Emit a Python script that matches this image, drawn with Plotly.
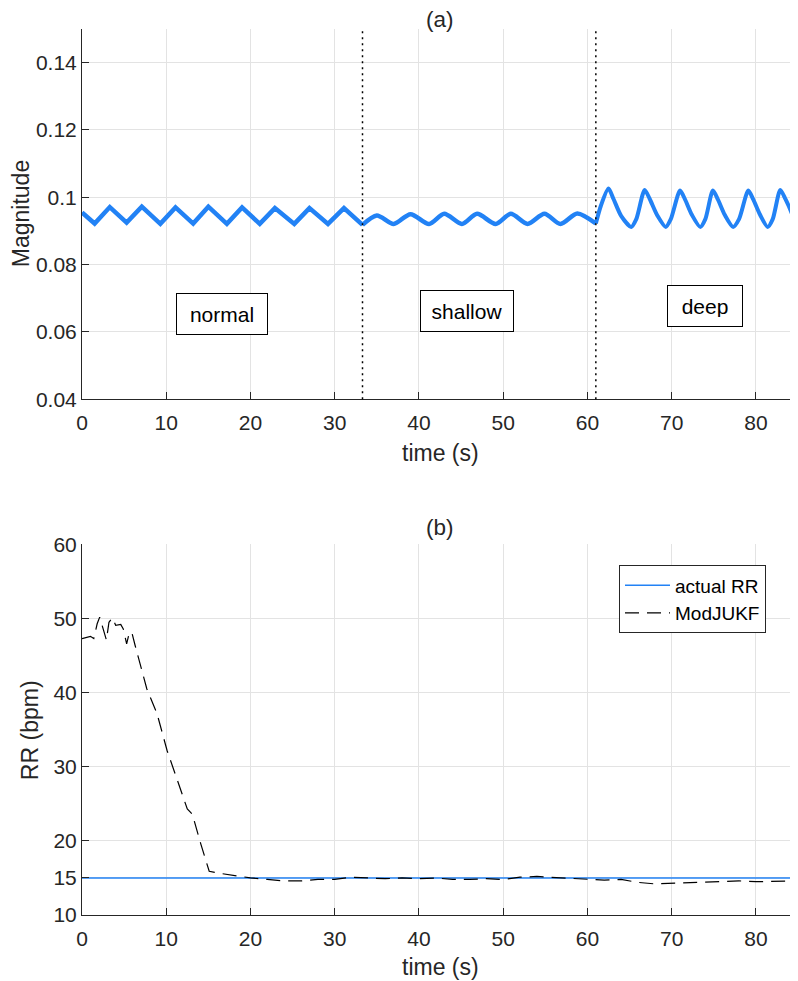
import plotly.graph_objects as go

# panel (a): magnitude trace (key points per breath)
t_normal = [0, 1.5, 3.3, 5.3, 7.1, 9.3, 11.1, 13.2, 15.0, 17.2, 19.0, 21.1,
            22.9, 25.2, 27.0, 29.2, 31.1, 33.3]
mag_normal = [0.0955, 0.0922, 0.0971, 0.0925, 0.0972, 0.0921, 0.0970, 0.0922,
              0.0972, 0.0921, 0.0970, 0.0921, 0.0968, 0.0921, 0.0968, 0.0921,
              0.0968, 0.0918]

t_shallow = [33.3, 35.0, 37.0, 39.0, 41.2, 43.0, 45.1, 46.9, 49.1, 50.9, 52.9,
             54.9, 56.8, 58.8, 61.0]
mag_shallow = [0.0918, 0.0946, 0.0921, 0.0950, 0.0921, 0.0951, 0.0921, 0.0951,
               0.0921, 0.0951, 0.0921, 0.0951, 0.0921, 0.0952, 0.0922]

t_deep = [61.0, 61.6, 62.5, 63.1, 64.0, 65.2, 65.8, 66.8, 67.4, 68.3, 69.3,
          69.9, 71.0, 71.6, 72.4, 73.4, 74.0, 74.9, 75.5, 76.3, 77.3, 78.0,
          79.1, 79.7, 80.5, 81.4, 82.0, 82.9, 83.5, 84.3, 85.0]
mag_deep = [0.0922, 0.0975, 0.1026, 0.0995, 0.0945, 0.0912, 0.0935, 0.1022,
            0.0995, 0.0946, 0.0912, 0.0935, 0.1020, 0.0993, 0.0948, 0.0912,
            0.0935, 0.1020, 0.0993, 0.0948, 0.0912, 0.0935, 0.1020, 0.0993,
            0.0948, 0.0912, 0.0935, 0.1022, 0.0995, 0.0950, 0.0896]

phase_bounds = [33.3, 61.0]
phase_labels = ["normal", "shallow", "deep"]
phase_label_t = [16.6, 45.7, 74.0]
phase_label_y = [0.0653, 0.0662, 0.0677]

# panel (b): respiratory rate estimate
t_rr = [0, 1.0, 1.4, 1.8, 2.1, 2.4, 2.9, 3.2, 3.6, 4.0, 4.6, 4.9, 5.3, 5.6,
        5.9, 6.3, 7.7, 8.9, 10.1, 12.5, 13.1, 14.1, 15.1, 16.5, 18.1, 20,
        22, 24, 26, 28, 30, 32, 34, 36, 38, 40, 42, 44, 46, 48, 50, 52, 54,
        56, 58, 60, 62, 64, 66, 68, 70, 72, 74, 76, 78, 80, 82, 85]
rr_est = [47.3, 47.6, 47.3, 49.3, 50.2, 48.9, 47.1, 49.5, 50.1, 49.1, 49.2,
          48.6, 46.6, 48.0, 48.2, 46.4, 40.5, 37.2, 32.2, 24.3, 23.6, 19.6,
          15.9, 15.6, 15.3, 15.0, 14.8, 14.6, 14.6, 14.8, 14.8, 15.1, 15.0,
          14.9, 15.0, 14.9, 15.0, 14.8, 14.8, 14.9, 14.8, 15.1, 15.2, 15.1,
          15.0, 14.9, 14.7, 14.8, 14.4, 14.2, 14.3, 14.4, 14.4, 14.6, 14.6,
          14.5, 14.5, 14.6]
t_actual = [0, 85]
rr_actual = [15, 15]

BLUE = "#2282f5"
AXC = "#262626"
GRID = "#e3e3e3"
FONT = "Liberation Sans"

fig = go.Figure()

fig.add_trace(go.Scatter(x=t_normal, y=mag_normal, mode="lines",
                         line=dict(color=BLUE, width=4.5), showlegend=False,
                         xaxis="x", yaxis="y"))
fig.add_trace(go.Scatter(x=t_shallow, y=mag_shallow, mode="lines",
                         line=dict(color=BLUE, width=4.5, shape="spline", smoothing=0.8),
                         showlegend=False, xaxis="x", yaxis="y"))
fig.add_trace(go.Scatter(x=t_deep, y=mag_deep, mode="lines",
                         line=dict(color=BLUE, width=4, shape="spline", smoothing=0.7),
                         showlegend=False, xaxis="x", yaxis="y"))

fig.add_trace(go.Scatter(x=t_actual, y=rr_actual, mode="lines", name="actual RR",
                         line=dict(color=BLUE, width=1.5), xaxis="x2", yaxis="y2"))
fig.add_trace(go.Scatter(x=t_rr, y=rr_est, mode="lines", name="ModJUKF",
                         line=dict(color="black", width=1.2, dash="14px,8px"),
                         xaxis="x2", yaxis="y2"))

# dotted phase boundaries
for tb in phase_bounds:
    fig.add_shape(type="line", xref="x", yref="y domain", x0=tb, x1=tb, y0=0, y1=1,
                  line=dict(color="black", width=1.5, dash="2px,4px"))

box_widths = [72, 74, 56]
for txt, tx, ty, bw in zip(phase_labels, phase_label_t, phase_label_y, box_widths):
    fig.add_annotation(x=tx, y=ty, xref="x", yref="y", text=txt, showarrow=False,
                       font=dict(size=21, color="black", family=FONT),
                       width=bw, height=22, align="center",
                       bordercolor="black", borderwidth=1, borderpad=9,
                       bgcolor="white")

axis_common = dict(showline=True, linecolor=AXC, linewidth=1, ticks="inside",
                   ticklen=7, tickcolor=AXC, showgrid=True, gridcolor=GRID,
                   gridwidth=1, zeroline=False, mirror=False,
                   tickfont=dict(size=21, color=AXC, family=FONT))

top_dom = [0.5821, 1.0]
bot_dom = [0.0, 0.4182]

# page body has an 8px margin, so the figure is 8px smaller than the window
fig.update_layout(
    width=790, height=973,
    margin=dict(l=74, r=0, t=21, b=66),
    paper_bgcolor="white", plot_bgcolor="white",
    font=dict(family=FONT, color=AXC),
    xaxis=dict(domain=[0, 1], anchor="y", range=[0, 85], ticklabelstandoff=5,
               tickvals=[0, 10, 20, 30, 40, 50, 60, 70, 80], **axis_common),
    yaxis=dict(domain=top_dom, anchor="x", range=[0.04, 0.15],
               tickvals=[0.04, 0.06, 0.08, 0.1, 0.12, 0.14],
               ticktext=["0.04", "0.06", "0.08", "0.1", "0.12", "0.14"], **axis_common),
    xaxis2=dict(domain=[0, 1], anchor="y2", range=[0, 85], ticklabelstandoff=5,
                tickvals=[0, 10, 20, 30, 40, 50, 60, 70, 80], **axis_common),
    yaxis2=dict(domain=bot_dom, anchor="x2", range=[10, 60],
                tickvals=[10, 15, 20, 30, 40, 50, 60], **axis_common),
    legend=dict(x=0.75, y=0.3946, xanchor="left", yanchor="top",
                bgcolor="white", bordercolor=AXC, borderwidth=1, itemwidth=45,
                font=dict(size=19, color="black", family=FONT)),
)

# titles and axis labels
labels = [
    dict(text="(a)", x=0.5, y=1.0266, xa="center", ya="top", textangle=0, size=22.5),
    dict(text="(b)", x=0.5, y=0.4374, xa="center", ya="middle", textangle=0, size=22.5),
    dict(text="time (s)", x=0.5, y=0.522, xa="center", ya="middle", textangle=0, size=23),
    dict(text="time (s)", x=0.5, y=-0.0586, xa="center", ya="middle", textangle=0, size=23),
    dict(text="Magnitude", x=-0.1061, y=0.791, xa="left", ya="middle", textangle=-90, size=23),
    dict(text="RR (bpm)", x=-0.0727, y=0.2086, xa="center", ya="middle", textangle=-90, size=23),
]
for lab in labels:
    fig.add_annotation(text=lab["text"], x=lab["x"], y=lab["y"], xref="paper",
                       yref="paper", showarrow=False, textangle=lab["textangle"],
                       xanchor=lab["xa"], yanchor=lab["ya"],
                       font=dict(size=lab["size"], color=AXC, family=FONT))

fig.write_html("out.html")
